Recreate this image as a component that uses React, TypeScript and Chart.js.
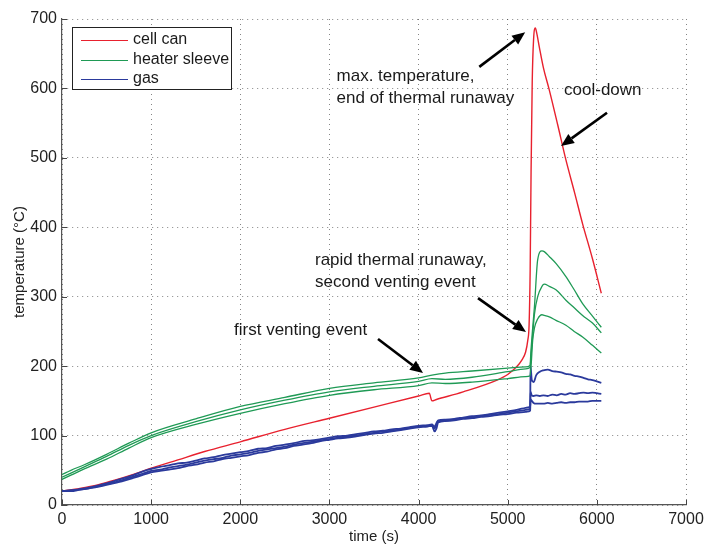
import React, { useEffect, useRef } from "react";
import { Chart, registerables } from "chart.js";

Chart.register(...registerables);

// ---------- data ----------
const legendLabels = ["cell can", "heater sleeve", "gas"];

const xTickValues = [0, 1000, 2000, 3000, 4000, 5000, 6000, 7000];
const yTickValues = [0, 100, 200, 300, 400, 500, 600, 700];

const redTime = [0, 200, 400, 600, 800, 1000, 1300, 1600, 2000, 2500, 3000, 3500, 4000, 4120, 4150, 4200, 4500, 4880, 5000, 5100, 5160, 5200, 5225, 5240, 5252, 5262, 5275, 5290, 5310, 5325, 5354, 5400, 5466, 5560, 5653, 5750, 5840, 5950, 6050];
const redTemp = [20, 24, 29, 36, 44, 53, 65, 77, 91, 109, 125, 141, 157, 161, 150, 152, 163, 180, 188, 199, 209, 220, 237, 260, 340, 480, 610, 670, 687, 680, 660, 630, 598, 548, 497, 450, 405, 355, 305];

const heaterTime = [0, 100, 250, 500, 750, 1000, 1500, 2000, 2500, 3000, 3500, 4000, 4150, 4300, 4600, 5000, 5200, 5250, 5262, 5280, 5300, 5336, 5384, 5410, 5466, 5541, 5653, 5746, 5840, 5951, 6050];
const heaterA = [44, 50, 58, 73, 89, 104, 124, 142, 155, 168, 176, 183, 187, 190, 193, 197, 199, 201, 225, 255, 286, 353, 366, 365, 358, 348, 329, 310, 290, 272, 256];
const heaterB = [40, 46, 55, 70, 86, 100, 120, 137, 151, 163, 171, 178, 182, 181, 184, 192, 196, 198, 215, 245, 275, 300, 315, 318, 315, 310, 295, 284, 273, 262, 248];
const heaterC = [37, 43, 52, 66, 82, 97, 116, 132, 146, 158, 166, 172, 176, 175, 177, 182, 185, 186, 200, 237, 255, 268, 274, 273, 271, 266, 259, 250, 242, 230, 219];

const gasTime = [
  0, 100, 200, 300, 400, 500, 600, 700, 800, 900, 1000,
  1100, 1200, 1300, 1400, 1500, 1600, 1700, 1800, 1900, 2000,
  2100, 2200, 2300, 2400, 2500, 2600, 2700, 2800, 2900, 3000,
  3100, 3200, 3300, 3400, 3500, 3600, 3700, 3800, 3900, 4000, 4100,
  4150, 4180, 4200, 4220,
  4300, 4400, 4500, 4600, 4700, 4800, 4900, 5000, 5100, 5200,
  5240, 5252, 5256, 5270, 5290, 5320, 5360, 5400, 5450, 5500, 5550, 5600, 5650, 5700, 5750, 5800, 5850, 5900, 5950, 6000, 6050,
];
const gasA = [
  20, 21, 23, 25, 28, 31, 35, 39, 43, 48, 52,
  55, 57, 60, 61, 64, 67, 69, 72, 74, 76,
  78, 81, 82, 85, 87, 89, 92, 93, 95, 97,
  99, 100, 102, 104, 106, 107, 109, 110, 112, 114, 115,
  116, 113, 118, 122,
  123, 124, 126, 128, 129, 131, 133, 135, 137, 140,
  141, 142, 200, 180, 177, 187, 192, 194, 195, 193, 192, 191, 189, 188, 186, 185, 183, 181, 180, 178, 176,
];
const gasB = [
  20, 21, 22, 24, 27, 30, 33, 37, 41, 45, 49,
  51, 54, 56, 58, 61, 64, 66, 68, 71, 73,
  75, 78, 80, 82, 84, 87, 89, 91, 93, 95,
  97, 99, 100, 102, 104, 106, 107, 109, 111, 113, 114,
  115, 110, 116, 121,
  122, 123, 125, 126, 128, 130, 131, 133, 135, 137,
  138, 138, 163, 158, 157, 158, 157, 158, 157, 159, 158, 160, 159, 161, 160, 161, 162, 161, 162, 161, 160,
];
const gasC = [
  20, 20, 22, 24, 26, 29, 32, 35, 39, 43, 47,
  49, 51, 53, 56, 58, 61, 63, 66, 68, 70,
  72, 75, 77, 80, 82, 85, 87, 89, 92, 94,
  96, 97, 99, 101, 103, 104, 106, 108, 110, 112, 113,
  114, 106, 110, 119,
  121, 122, 124, 125, 127, 128, 130, 131, 133, 134,
  135, 136, 152, 150, 147, 146, 146, 146, 147, 146, 147, 148, 147, 148, 148, 149, 149, 149, 150, 150, 150,
];

// annotation texts anchored in data coordinates (time, temperature)
const annotationTexts = [
  { lines: ["max. temperature,", "end of thermal runaway"], at: [3080, 617], step: -31 },
  { lines: ["cool-down"], at: [5632, 598], step: 0 },
  { lines: ["rapid thermal runaway,", "second venting event"], at: [2838, 353], step: -32 },
  { lines: ["first venting event"], at: [1930, 251], step: 0 },
];
const annotationArrows = [
  { from: [4681, 631], to: [5196, 681] },
  { from: [6114, 565], to: [5598, 517] },
  { from: [4667, 298], to: [5205, 249] },
  { from: [3545, 239], to: [4050, 190] },
];

// ---------- styles ----------
const RED = "#e8212e";
const GREEN = "#1f9a55";
const BLUE = "#2b3a9c";
const FONT = "'Liberation Sans', Arial, Helvetica, sans-serif";

const pts = (t: number[], v: number[]) => t.map((x, i) => ({ x, y: v[i] }));

function drawArrow(ctx: CanvasRenderingContext2D, x1: number, y1: number, x2: number, y2: number) {
  const ang = Math.atan2(y2 - y1, x2 - x1);
  const head = 13;
  const half = 5.5;
  const bx = x2 - head * Math.cos(ang);
  const by = y2 - head * Math.sin(ang);
  ctx.beginPath();
  ctx.moveTo(x1, y1);
  ctx.lineTo(bx, by);
  ctx.lineWidth = 2.6;
  ctx.strokeStyle = "#000";
  ctx.stroke();
  ctx.beginPath();
  ctx.moveTo(x2, y2);
  ctx.lineTo(bx + half * Math.sin(ang), by - half * Math.cos(ang));
  ctx.lineTo(bx - half * Math.sin(ang), by + half * Math.cos(ang));
  ctx.closePath();
  ctx.fillStyle = "#000";
  ctx.fill();
}

const overlayPlugin = {
  id: "overlay",
  afterDraw(chart: any) {
    const ctx: CanvasRenderingContext2D = chart.ctx;
    const xs = chart.scales.x;
    const ys = chart.scales.y;
    const area = chart.chartArea;
    ctx.save();

    // inward tick marks
    ctx.strokeStyle = "#444";
    ctx.lineWidth = 1;
    ctx.beginPath();
    for (const v of xTickValues) {
      const px = Math.round(xs.getPixelForValue(v)) + 0.5;
      ctx.moveTo(px, area.bottom);
      ctx.lineTo(px, area.bottom - 5);
    }
    for (const v of yTickValues) {
      const py = Math.round(ys.getPixelForValue(v)) + 0.5;
      ctx.moveTo(area.left, py);
      ctx.lineTo(area.left + 5, py);
    }
    ctx.stroke();

    // legend
    const lx = area.left + 10;
    const ly = area.top + 8;
    const lw = 159;
    const lh = 62;
    ctx.fillStyle = "#fff";
    ctx.fillRect(lx, ly, lw, lh);
    ctx.strokeStyle = "#222";
    ctx.lineWidth = 1;
    ctx.strokeRect(lx + 0.5, ly + 0.5, lw, lh);
    const legendColors = [RED, GREEN, BLUE];
    ctx.font = `16px ${FONT}`;
    ctx.textBaseline = "middle";
    ctx.textAlign = "left";
    legendLabels.forEach((lab, i) => {
      const yy = ly + 13 + i * 19.5;
      ctx.beginPath();
      ctx.moveTo(lx + 9, Math.round(yy) + 0.5);
      ctx.lineTo(lx + 56, Math.round(yy) + 0.5);
      ctx.strokeStyle = legendColors[i];
      ctx.lineWidth = 1.2;
      ctx.stroke();
      ctx.fillStyle = "#1a1a1a";
      ctx.fillText(lab, lx + 61, yy);
    });

    // annotations
    ctx.font = `17px ${FONT}`;
    ctx.fillStyle = "#1a1a1a";
    ctx.textBaseline = "middle";
    ctx.textAlign = "left";
    for (const a of annotationTexts) {
      const x0 = xs.getPixelForValue(a.at[0]);
      a.lines.forEach((ln, i) => {
        const yy = ys.getPixelForValue(a.at[1] + a.step * i);
        ctx.fillText(ln, x0, yy);
      });
    }
    for (const ar of annotationArrows) {
      drawArrow(
        ctx,
        xs.getPixelForValue(ar.from[0]),
        ys.getPixelForValue(ar.from[1]),
        xs.getPixelForValue(ar.to[0]),
        ys.getPixelForValue(ar.to[1])
      );
    }
    ctx.restore();
  },
};

export default function App() {
  const ref = useRef<HTMLCanvasElement | null>(null);

  useEffect(() => {
    document.body.style.margin = "0";
    const canvas = ref.current;
    if (!canvas) return;

    const line = (data: any[], color: string, width: number) => ({
      data,
      borderColor: color,
      backgroundColor: color,
      borderWidth: width,
      pointRadius: 0,
      fill: false,
      cubicInterpolationMode: "monotone" as const,
    });

    const chart = new Chart(canvas, {
      type: "line",
      data: {
        datasets: [
          line(pts(heaterTime, heaterA), GREEN, 1.3),
          line(pts(heaterTime, heaterB), GREEN, 1.3),
          line(pts(heaterTime, heaterC), GREEN, 1.3),
          line(pts(gasTime, gasA), BLUE, 1.8),
          line(pts(gasTime, gasB), BLUE, 1.8),
          line(pts(gasTime, gasC), BLUE, 1.8),
          line(pts(redTime, redTemp), RED, 1.4),
        ],
      },
      options: {
        responsive: false,
        devicePixelRatio: 1,
        animation: false,
        events: [],
        layout: { padding: { top: 19, right: 18, left: 0, bottom: 0 } },
        plugins: { legend: { display: false }, tooltip: { enabled: false } },
        scales: {
          x: {
            type: "linear",
            min: 0,
            max: 7000,
            afterFit: (s: any) => {
              s.height = 41;
              s.paddingLeft = 0;
              s.paddingRight = 0;
            },
            afterBuildTicks: (s: any) => {
              s.ticks = xTickValues.map((v) => ({ value: v }));
            },
            ticks: {
              padding: 5,
              color: "#222",
              font: { family: FONT, size: 16 },
              maxRotation: 0,
              autoSkip: false,
              callback: (v: any) => String(v),
            },
            grid: { color: "rgba(50,50,50,0.6)", drawTicks: false, lineWidth: 1 },
            border: { display: true, color: "#555", width: 1.2, dash: [1, 4] },
            title: {
              display: true,
              text: "time (s)",
              color: "#222",
              font: { family: FONT, size: 15 },
              padding: { top: 0, bottom: 0 },
            },
          },
          y: {
            type: "linear",
            min: 0,
            max: 700,
            afterFit: (s: any) => {
              s.width = 62;
              s.paddingTop = 0;
              s.paddingBottom = 0;
            },
            afterBuildTicks: (s: any) => {
              s.ticks = yTickValues.map((v) => ({ value: v }));
            },
            ticks: {
              padding: 5,
              color: "#222",
              font: { family: FONT, size: 16 },
              autoSkip: false,
              callback: (v: any) => String(v),
            },
            grid: { color: "rgba(50,50,50,0.6)", drawTicks: false, lineWidth: 1 },
            border: { display: true, color: "#555", width: 1.2, dash: [1, 4] },
            title: {
              display: true,
              text: "temperature (°C)",
              color: "#222",
              font: { family: FONT, size: 15 },
              padding: { top: 11, bottom: 0 },
            },
          },
        },
      },
      plugins: [overlayPlugin],
    });

    return () => chart.destroy();
  }, []);

  return (
    <div style={{ width: 704, height: 546 }}>
      <canvas ref={ref} width={704} height={546} style={{ display: "block" }} />
    </div>
  );
}
